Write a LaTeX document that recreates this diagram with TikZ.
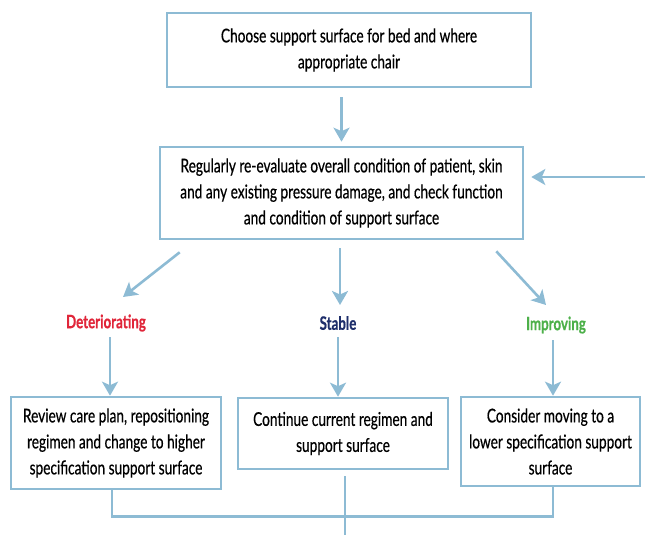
\documentclass[tikz,border=0pt]{standalone}
\usepackage{fontspec}
\setmainfont[FakeStretch=0.72,FakeBold=0.5]{Lato}
\usetikzlibrary{arrows.meta,calc}
\definecolor{lblue}{HTML}{8DBBD4}
\definecolor{detred}{HTML}{E0263A}
\definecolor{stabnavy}{HTML}{1F2F6B}
\definecolor{impgreen}{HTML}{4DB04A}
\tikzset{
  box/.style={draw=lblue, line width=2.6pt, align=center, inner sep=2pt, font=\fontsize{19}{26}\selectfont},
  arr/.style={draw=lblue, line width=2.6pt, -{Stealth[length=14pt,width=16pt,inset=3.5pt]}},
  ln/.style={draw=lblue, line width=2.6pt},
  lab/.style={font=\fontsize{18.5}{20}\selectfont\bfseries}
}
\begin{document}
\begin{tikzpicture}[x=1pt,y=-1pt]
\useasboundingbox (0,0) rectangle (645,535);
\node[box, minimum width=364pt, minimum height=74pt] (top) at (349,50) {Choose support surface for bed and where\\appropriate chair};
\node[box, minimum width=363pt, minimum height=92pt] (mid) at (341.5,193) {Regularly re-evaluate overall condition of patient, skin\\and any existing pressure damage, and check function\\and condition of support surface};
\node[lab, text=detred] (det) at (106,323) {Deteriorating};
\node[lab, text=stabnavy] (stab) at (338,323) {Stable};
\node[lab, text=impgreen] (imp) at (556,325) {Improving};
\node[box, minimum width=210pt, minimum height=92pt] (b1) at (116,443) {Review care plan, repositioning\\regimen and change to higher\\specification support surface};
\node[box, minimum width=210pt, minimum height=71pt] (b2) at (343,433.5) {Continue current regimen and\\support surface};
\node[box, minimum width=179pt, minimum height=89pt] (b3) at (550.5,441.5) {Consider moving to a\\lower specification support\\surface};
\coordinate (fb) at (645,177);
\coordinate (bot) at (345,535);
% arrows
\draw[arr, shorten <=9pt, shorten >=4pt] (top.south -| mid.north) -- (mid.north);
\draw[arr, shorten >=7pt] (fb) -- (fb -| mid.east);
\draw[arr] ($(mid.south west)+(21,12)$) -- (123,297);
\draw[arr] ($(mid.south)+(-1.5,8)$) -- (340,305);
\draw[arr] ($(mid.south east)+(-28,11)$) -- (546,305);
\draw[arr] (110,337) -- (b1.north -| 110,0);
\draw[arr] (338,337) -- (b2.north -| 338,0);
\draw[arr] (553,340) -- (b3.north -| 553,0);
% bottom return lines
\draw[ln] ($(b1.south)+(-4,0)$) |- ($(b3.south)+(2.5,29)$) -- ($(b3.south)+(2.5,0)$);
\draw[ln] ($(b2.south)+(2,6)$) -- (bot);
\end{tikzpicture}
\end{document}
